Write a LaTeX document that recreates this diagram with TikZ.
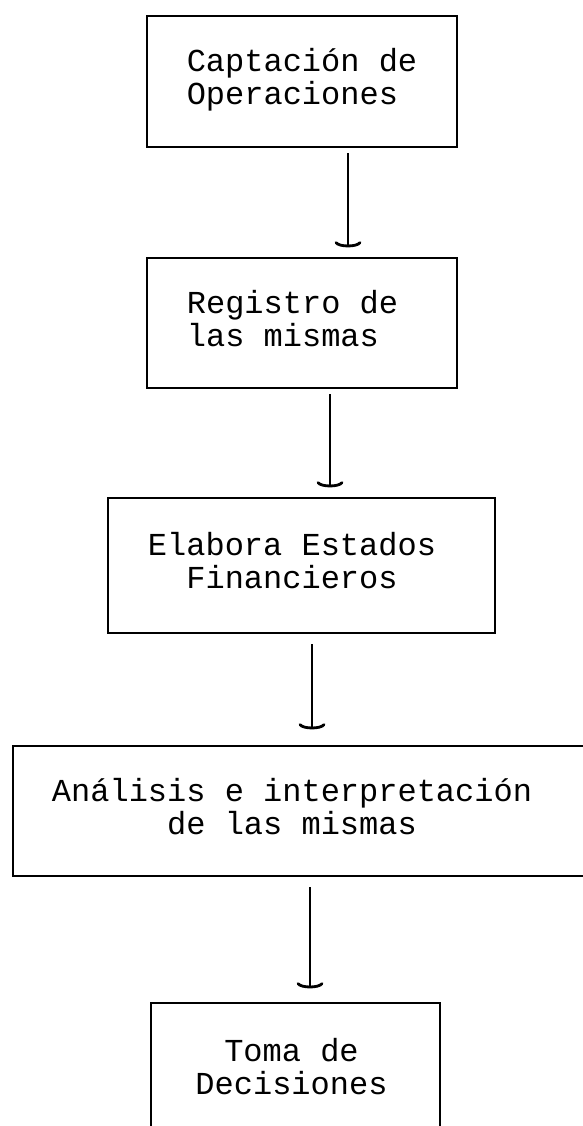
\documentclass[tikz,border=0pt]{standalone}
\usepackage{fontspec}
\setmonofont{Liberation Mono}
\usetikzlibrary{calc}
\begin{document}
\begin{tikzpicture}[x=1pt,y=-1pt,
  box/.style={draw=black, line width=2.8pt, rectangle, inner sep=0pt,
    font=\ttfamily\fontsize{32}{32}\selectfont},
  conn/.style={draw=black, line width=2.4pt},
  tbar/.pic={\draw[line width=2.8pt, line cap=round] (-12,-4) .. controls (-9,0.5) and (9,0.5) .. (12,-4);}]
\useasboundingbox (0,0) rectangle (583,1126);
\clip (0,0) rectangle (583,1126);
\fill[white] (0,0) rectangle (583,1126);
\node[box, minimum width=310pt, minimum height=131pt] (b1) at (302,81.5)
  {\begin{tabular}{@{}l@{}}Captación de\\Operaciones\end{tabular}};
\node[box, minimum width=310pt, minimum height=130pt] (b2) at (302,323)
  {\begin{tabular}{@{}l@{}}Registro de\\las mismas\end{tabular}\kern19pt};
\node[box, minimum width=387pt, minimum height=135pt] (b3) at (301.5,565.5)
  {\begin{tabular}{@{}c@{}}Elabora Estados\\Financieros\end{tabular}\kern19pt};
\node[box, minimum width=587pt, minimum height=130pt] (b4) at (306.5,811)
  {\begin{tabular}{@{}c@{}}Análisis e interpretación\\de las mismas\end{tabular}\kern29pt};
\node[box, minimum width=289pt, minimum height=137pt] (b5) at (295.5,1071.5)
  {\begin{tabular}{@{}c@{}}Toma de\\Decisiones\end{tabular}\kern8pt};
\coordinate (x1) at (348,0);
\coordinate (x2) at (330,0);
\coordinate (x3) at (312,0);
\coordinate (x4) at (310,0);
\draw[conn] ($(b1.south -| x1)+(0,5)$) -- ($(b2.north -| x1)+(0,-10)$) coordinate (t1);
\draw[conn] ($(b2.south -| x2)+(0,5)$) -- ($(b3.north -| x2)+(0,-10)$) coordinate (t2);
\draw[conn] ($(b3.south -| x3)+(0,10)$) -- ($(b4.north -| x3)+(0,-16)$) coordinate (t3);
\draw[conn] ($(b4.south -| x4)+(0,10)$) -- ($(b5.north -| x4)+(0,-14)$) coordinate (t4);
\pic at (t1) {tbar};
\pic at (t2) {tbar};
\pic at (t3) {tbar};
\pic at (t4) {tbar};
\end{tikzpicture}
\end{document}
